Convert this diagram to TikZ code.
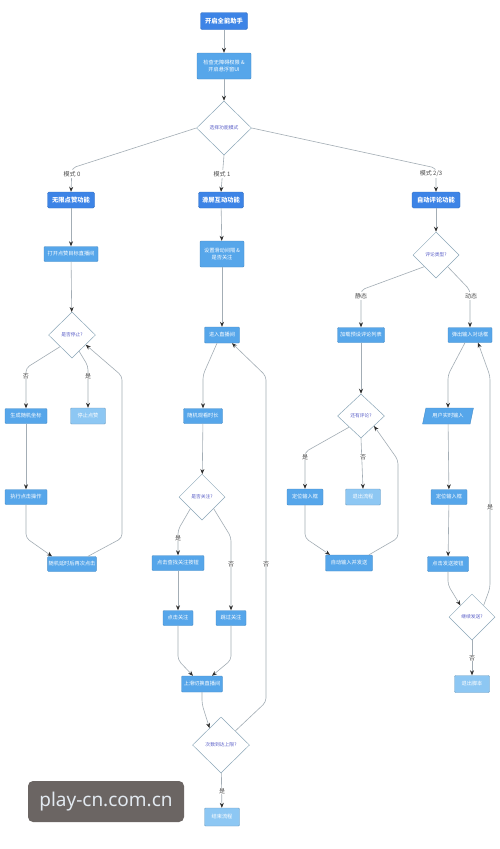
\documentclass[tikz,border=0pt]{standalone}
\usepackage{fontspec}
\setmainfont{Noto Sans CJK SC}
\newfontfamily\wmfont{Noto Sans}
\usetikzlibrary{shapes.geometric,arrows.meta,calc}
\definecolor{mainblue}{HTML}{3D84E6}
\definecolor{procblue}{HTML}{56A6EA}
\definecolor{lightblue}{HTML}{8DC7F3}
\definecolor{dborder}{HTML}{8AA6B8}
\definecolor{dtext}{HTML}{5A5FC8}
\definecolor{linegray}{HTML}{A3ADB5}
\definecolor{tipgray}{HTML}{2E2E2E}
\definecolor{wmgray}{HTML}{6B6563}
\definecolor{wmtext}{HTML}{E2E9F0}
\begin{document}
\begin{tikzpicture}[x=1pt,y=-1pt,
  mainbox/.style={rectangle, rounded corners=1.5pt, fill=mainblue, draw=mainblue!85!black, line width=0.4pt, text=white, font=\fontsize{6.3}{7}\selectfont\bfseries, minimum height=16pt, inner sep=1pt},
  procbox/.style={rectangle, rounded corners=1pt, fill=procblue, draw=procblue!85!black, line width=0.4pt, text=white, font=\fontsize{5.2}{6.2}\selectfont, minimum height=15pt, inner sep=1pt, align=center},
  endbox/.style={procbox, fill=lightblue, draw=lightblue!80!black},
  decision/.style={diamond, draw=dborder, fill=white, line width=0.5pt, text=dtext, font=\fontsize{4.8}{5}\selectfont, inner sep=0pt},
  iobox/.style={trapezium, trapezium left angle=70, trapezium right angle=110, trapezium stretches=true, fill=procblue, draw=procblue!85!black, line width=0.4pt, text=white, font=\fontsize{5.2}{6.2}\selectfont, minimum height=16pt, inner sep=1pt},
  edge/.style={draw=linegray, line width=0.6pt, rounded corners=4pt, -{Stealth[length=5pt,width=4pt,color=tipgray]}},
  elabel/.style={fill=white, text=black!70, font=\fontsize{6}{7}\selectfont, inner sep=0.8pt},
  wmbox/.style={rectangle, rounded corners=5pt, fill=wmgray, text=wmtext, font=\wmfont\fontsize{19}{20}\selectfont, minimum width=156pt, minimum height=41pt}
]
\useasboundingbox (0,0) rectangle (500,849);
\fill[white] (0,0) rectangle (500,849);

% top
\node[mainbox, minimum width=47pt, minimum height=17pt] (start) at (224,21) {开启全能助手};
\node[procbox, minimum width=54pt, minimum height=26pt] (perm) at (224,66) {检查无障碍权限 \&\\开启悬浮窗UI};
\node[decision, minimum width=55pt, minimum height=54pt] (sel) at (224,128) {选择功能模式};

% mode 0
\node[mainbox, minimum width=47pt] (b0) at (71,200) {无限点赞功能};
\node[procbox, minimum width=54pt] (b0a) at (71,254) {打开点赞目标直播间};
\node[decision, minimum width=47pt, minimum height=46pt] (d0) at (72,335) {是否停止?};
\node[procbox, minimum width=42pt] (c0) at (26,416) {生成随机坐标};
\node[endbox, minimum width=35pt, minimum height=16pt] (s0) at (88,416) {停止点赞};
\node[procbox, minimum width=42pt] (c1) at (26,497) {执行点击操作};
\node[procbox, minimum width=48pt] (c2) at (72,564) {随机延时后再次点击};

% mode 1
\node[mainbox, minimum width=45pt] (b1) at (221,200) {滑屏互动功能};
\node[procbox, minimum width=44pt, minimum height=26pt] (b1a) at (222,254) {设置滑动间隔 \&\\是否关注};
\node[procbox, minimum width=35pt, minimum height=16pt] (e1) at (222,335) {进入直播间};
\node[procbox, minimum width=39pt] (e2) at (203,416) {随机观看时长};
\node[decision, minimum width=46pt, minimum height=46pt] (d1) at (202,497) {是否关注?};
\node[procbox, minimum width=52pt] (f1) at (178,563) {点击查找关注按钮};
\node[procbox, minimum width=30pt] (f2) at (178,618) {点击关注};
\node[procbox, minimum width=30pt] (f3) at (231,618) {跳过关注};
\node[procbox, minimum width=41pt, minimum height=16pt] (g1) at (202,684) {上滑切换直播间};
\node[decision, minimum width=57pt, minimum height=56pt] (d2) at (221,745) {次数到达上限?};
\node[endbox, minimum width=35pt, minimum height=18pt] (end1) at (222,817) {结束流程};

% mode 2/3
\node[mainbox, minimum width=48pt] (b2) at (436,200) {自动评论功能};
\node[decision, minimum width=46pt, minimum height=46pt] (d3) at (436,255) {评论类型?};
\node[procbox, minimum width=47pt] (h1) at (361,335) {加载预设评论列表};
\node[decision, minimum width=47pt, minimum height=44pt] (d4) at (361,416) {还有评论?};
\node[procbox, minimum width=36pt, minimum height=16pt] (h2) at (305,497) {定位输入框};
\node[endbox, minimum width=35pt, minimum height=16pt] (h3) at (363,497) {退出流程};
\node[procbox, minimum width=47pt, minimum height=16pt] (h4) at (349,563) {自动输入并发送};
\node[procbox, minimum width=44pt] (k1) at (470,335) {弹出输入对话框};
\node[iobox, minimum width=51pt] (k2) at (448,416) {用户实时输入};
\node[procbox, minimum width=36pt] (k3) at (449,497) {定位输入框};
\node[procbox, minimum width=41pt] (k4) at (448,564) {点击发送按钮};
\node[decision, minimum width=46pt, minimum height=46pt] (d5) at (472,617) {继续发送?};
\node[endbox, minimum width=35pt, minimum height=17pt] (k5) at (472,684) {退出脚本};

% edges top
\draw[edge] (start) -- (perm);
\draw[edge] (perm) -- (sel);
\draw[edge] (sel.west) -- (72,168) -- (b0.north);
\draw[edge] (sel.south) -- (b1.north);
\draw[edge] (sel.east) -- (436,168) -- (b2.north);

% edges mode 0
\draw[edge] (b0) -- (b0a);
\draw[edge] (b0a) -- (d0);
\draw[edge] (d0.south west) -- (26,368) -- (c0.north);
\draw[edge] ($(d0.south)!0.3!(d0.east)$) -- (88,366) -- (s0.north);
\draw[edge] (c0) -- (c1);
\draw[edge] (c1.south) -- (26,538) -- ([xshift=-20pt]c2.north);
\draw[edge] ([xshift=16pt]c2.north) -- (122,538) -- (122,376) -- ($(d0.south)!0.58!(d0.east)$);

% edges mode 1
\draw[edge] (b1) -- (b1a);
\draw[edge] (b1a) -- (e1);
\draw[edge] ([xshift=-5pt]e1.south) -- (203,375) -- (e2.north);
\draw[edge] (e2) -- (d1);
\draw[edge] (d1.south west) -- (178,530) -- (f1.north);
\draw[edge] (d1.south east) -- (231,537) -- (f3.north);
\draw[edge] (f1) -- (f2);
\draw[edge] (f2.south) -- (178,660) -- ([xshift=-9pt]g1.north);
\draw[edge] (f3.south) -- (231,660) -- ([xshift=10pt]g1.north);
\draw[edge] (g1.south) -- (202,704) -- ($(d2.north)!0.4!(d2.west)$);
\draw[edge] (d2) -- (end1);
\draw[edge] ($(d2.north)!0.5!(d2.east)$) -- (266,702) -- (266,376) -- ([xshift=10pt]e1.south);

% edges mode 2/3
\draw[edge] (b2) -- (d3);
\draw[edge] (d3.south west) -- (361,290) -- (h1.north);
\draw[edge] (d3.south east) -- (470,290) -- (k1.north);
\draw[edge] (h1) -- (d4);
\draw[edge] (d4.south west) -- (305,452) -- (h2.north);
\draw[edge] (d4.south) -- (h3.north);
\draw[edge] (h2.south) -- (305,538) -- ([xshift=-19pt]h4.north);
\draw[edge] ([xshift=20pt]h4.north) -- (398,538) -- (398,460) -- ($(d4.south)!0.55!(d4.east)$);
\draw[edge] ([xshift=-5pt]k1.south) -- (448,375) -- (k2.north);
\draw[edge] (k2) -- (k3);
\draw[edge] (k3) -- (k4);
\draw[edge] (k4.south) -- (448,585) -- ($(d5.north)!0.5!(d5.west)$);
\draw[edge] (d5) -- (k5);
\draw[edge] ($(d5.north)!0.5!(d5.east)$) -- (490,588) -- (490,376) -- ([xshift=8pt]k1.south);

% labels
\node[elabel] (l0) at (72,174) {模式 0};
\node[elabel] (l1) at (222,174) {模式 1};
\node[elabel] (l2) at (431,174) {模式 2/3};
\node[elabel] (ln0) at (26,376) {否};
\node[elabel] (ly0) at (88,376) {是};
\node[elabel] (ly1) at (178,538) {是};
\node[elabel] (ln1) at (231,564) {否};
\node[elabel] (ln2) at (266,564) {否};
\node[elabel] (ly2) at (222,791) {是};
\node[elabel] (ls) at (361,296) {静态};
\node[elabel] (ld) at (471,296) {动态};
\node[elabel] (ly4) at (305,457) {是};
\node[elabel] (ln4) at (363,457) {否};
\node[elabel] (ly5) at (490,507) {是};
\node[elabel] (ln5) at (472,658) {否};

% watermark
\node[wmbox] (wm) at (106,801.5) {play-cn.com.cn};
\end{tikzpicture}
\end{document}
